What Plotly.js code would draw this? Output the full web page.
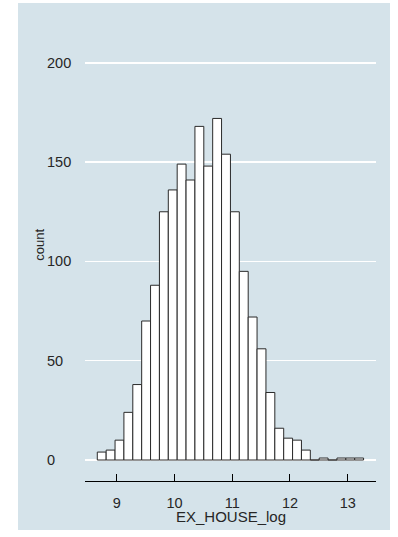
<!DOCTYPE html>
<html>
<head>
<meta charset="utf-8">
<script src="https://cdn.plot.ly/plotly-3.0.1.min.js"></script>
<style>
  html, body { margin: 0; padding: 0; background: #ffffff; }
  #chart { width: 398px; height: 537px; }
</style>
</head>
<body>
<div id="chart"></div>
<script>
// Histogram of EX_HOUSE_log: 30 equal-width bins
const binStart = 8.664;
const binWidth = 0.1537;
const counts = [4, 5, 10, 24, 38, 70, 88, 125, 136, 149,
                141, 168, 148, 172, 154, 125, 95, 72, 56, 34,
                16, 11, 10, 5, 0, 1, 0, 1, 1, 1];

const xTickVals = [9, 10, 11, 12, 13];
const xTickText = ['9', '10', '11', '12', '13'];
const yTickVals = [0, 50, 100, 150, 200];
const yTickText = ['0', '50', '100', '150', '200'];

const xTitle = 'EX_HOUSE_log';
const yTitle = 'count';

const binCenters = counts.map((_, i) => binStart + (i + 0.5) * binWidth);

const panelColor = '#d5e3ea';
const textColor = '#262626';
const fontFamily = '"Liberation Sans", Arial, Helvetica, sans-serif';

// plot area geometry in pixels
const W = 398, H = 537;
const mL = 85, mR = 22, mT = 40, mB = 56;
const plotW = W - mL - mR;
const plotH = H - mT - mB;
const px2paperX = px => (px - mL) / plotW;
const px2paperY = py => (H - mB - py) / plotH;

const trace = {
  type: 'bar',
  x: binCenters,
  y: counts,
  width: binWidth,
  marker: {
    color: '#ffffff',
    line: { color: '#2a2a2a', width: 1 }
  },
  hoverinfo: 'x+y'
};

// y tick labels are left-aligned in a column
const yLabelAnnotations = yTickVals.map((v, i) => ({
  x: px2paperX(45), xref: 'paper', xanchor: 'left',
  y: v, yref: 'y', yanchor: 'middle',
  text: yTickText[i], showarrow: false,
  font: { family: fontFamily, size: 14.5, color: textColor }
}));

const layout = {
  width: W,
  height: H,
  margin: { l: mL, r: mR, t: mT, b: mB, pad: 0 },
  paper_bgcolor: '#ffffff',
  plot_bgcolor: 'rgba(0,0,0,0)',
  showlegend: false,
  bargap: 0,
  font: { family: fontFamily, size: 14.5, color: textColor },
  xaxis: {
    range: [8.4511, 13.4901],
    tickmode: 'array',
    tickvals: xTickVals,
    ticktext: xTickText,
    ticks: 'inside',
    ticklen: 7,
    tickwidth: 1,
    tickcolor: '#000000',
    showline: true,
    linecolor: '#000000',
    linewidth: 1,
    showgrid: false,
    zeroline: false,
    ticklabelstandoff: 9,
    tickfont: { family: fontFamily, size: 14.5, color: textColor },
    fixedrange: true
  },
  yaxis: {
    range: [-10.57, 211.5],
    tickmode: 'array',
    tickvals: yTickVals,
    showticklabels: false,
    ticks: '',
    showline: false,
    showgrid: true,
    gridcolor: '#ffffff',
    gridwidth: 1.5,
    zeroline: false,
    fixedrange: true
  },
  shapes: [{
    type: 'rect', layer: 'below',
    xref: 'paper', yref: 'paper',
    x0: px2paperX(18), x1: px2paperX(390),
    y0: px2paperY(530), y1: px2paperY(3),
    fillcolor: panelColor,
    line: { width: 0 }
  }],
  annotations: yLabelAnnotations.concat([
    {
      x: 0.5, xref: 'paper', xanchor: 'center',
      y: px2paperY(516.5), yref: 'paper', yanchor: 'middle',
      text: xTitle, showarrow: false,
      font: { family: fontFamily, size: 15, color: textColor }
    },
    {
      x: px2paperX(38.7), xref: 'paper', xanchor: 'center',
      y: px2paperY(245), yref: 'paper', yanchor: 'middle',
      text: yTitle, textangle: -90, showarrow: false,
      font: { family: fontFamily, size: 13, color: textColor }
    }
  ])
};

Plotly.newPlot('chart', [trace], layout, { displayModeBar: false, staticPlot: true });
</script>
</body>
</html>
